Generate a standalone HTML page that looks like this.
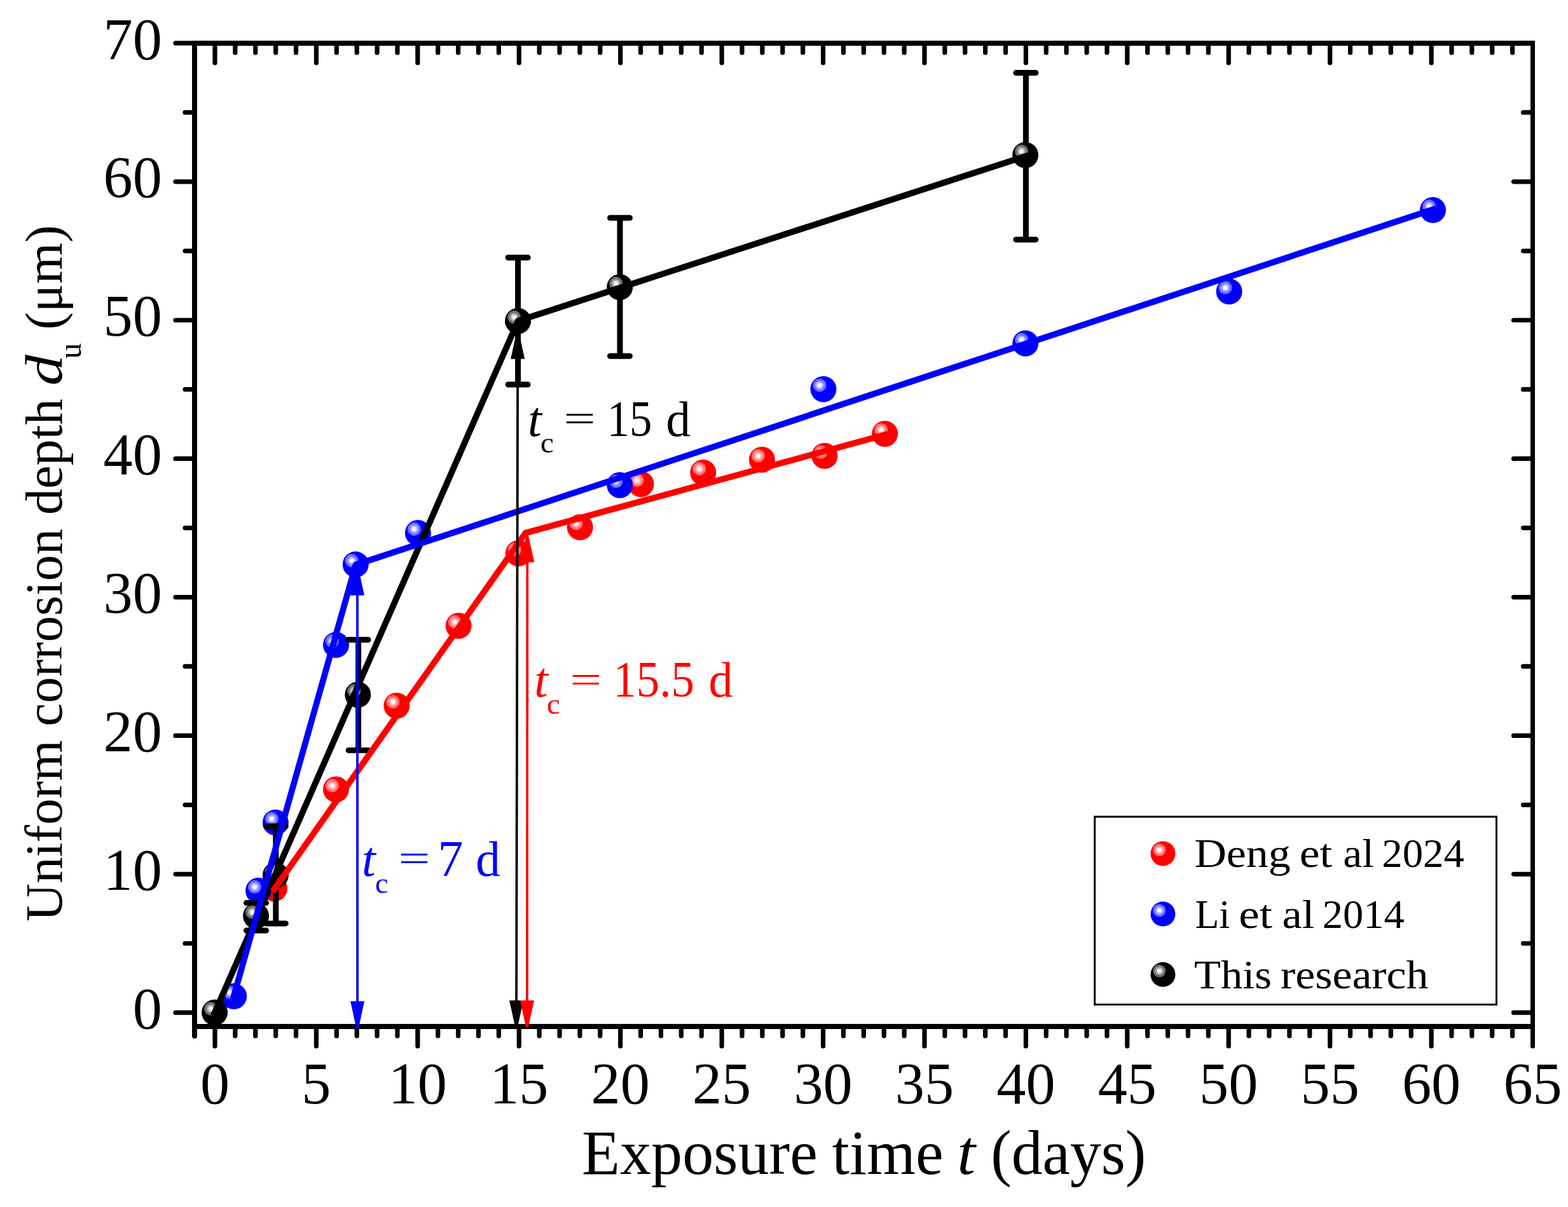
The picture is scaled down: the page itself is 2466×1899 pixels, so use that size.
<!DOCTYPE html>
<html lang="en"><head><meta charset="utf-8"><title>Uniform corrosion depth vs exposure time</title>
<style>
html,body{margin:0;padding:0;background:#fff;}
body{width:2466px;height:1899px;overflow:hidden;}
svg{display:block;}
text{font-family:"Liberation Serif","DejaVu Serif",serif;}
.tk{font-size:92.3px;fill:#000;}
.an{font-size:75.4px;}
.lg{font-size:62.5px;fill:#000;}
.yt{font-size:83px;fill:#000;}
</style></head><body>
<svg width="2466" height="1899" viewBox="0 0 2466 1899" role="img" aria-label="Uniform corrosion depth versus exposure time">
<rect width="2466" height="1899" fill="#fff"/>
<g id="scatter-red">
<g><circle cx="431.5" cy="1398" r="20.5" fill="#ff0000"/><circle cx="425.5" cy="1392" r="10.5" fill="#ff7070"/><circle cx="425.5" cy="1392" r="6.6" fill="#ffb0b0"/><circle cx="425.5" cy="1392" r="3.6" fill="#fff4f4"/></g>
<g><circle cx="528.4" cy="1242" r="20.5" fill="#ff0000"/><circle cx="522.4" cy="1236" r="10.5" fill="#ff7070"/><circle cx="522.4" cy="1236" r="6.6" fill="#ffb0b0"/><circle cx="522.4" cy="1236" r="3.6" fill="#fff4f4"/></g>
<g><circle cx="623.9" cy="1110.2" r="20.5" fill="#ff0000"/><circle cx="617.9" cy="1104.2" r="10.5" fill="#ff7070"/><circle cx="617.9" cy="1104.2" r="6.6" fill="#ffb0b0"/><circle cx="617.9" cy="1104.2" r="3.6" fill="#fff4f4"/></g>
<g><circle cx="721.2" cy="984.5" r="20.5" fill="#ff0000"/><circle cx="715.2" cy="978.5" r="10.5" fill="#ff7070"/><circle cx="715.2" cy="978.5" r="6.6" fill="#ffb0b0"/><circle cx="715.2" cy="978.5" r="3.6" fill="#fff4f4"/></g>
<g><circle cx="815.3" cy="870.5" r="20.5" fill="#ff0000"/><circle cx="809.3" cy="864.5" r="10.5" fill="#ff7070"/><circle cx="809.3" cy="864.5" r="6.6" fill="#ffb0b0"/><circle cx="809.3" cy="864.5" r="3.6" fill="#fff4f4"/></g>
<g><circle cx="912.2" cy="829.4" r="20.5" fill="#ff0000"/><circle cx="906.2" cy="823.4" r="10.5" fill="#ff7070"/><circle cx="906.2" cy="823.4" r="6.6" fill="#ffb0b0"/><circle cx="906.2" cy="823.4" r="3.6" fill="#fff4f4"/></g>
<g><circle cx="1008" cy="761.6" r="20.5" fill="#ff0000"/><circle cx="1002" cy="755.6" r="10.5" fill="#ff7070"/><circle cx="1002" cy="755.6" r="6.6" fill="#ffb0b0"/><circle cx="1002" cy="755.6" r="3.6" fill="#fff4f4"/></g>
<g><circle cx="1105.8" cy="743.4" r="20.5" fill="#ff0000"/><circle cx="1099.8" cy="737.4" r="10.5" fill="#ff7070"/><circle cx="1099.8" cy="737.4" r="6.6" fill="#ffb0b0"/><circle cx="1099.8" cy="737.4" r="3.6" fill="#fff4f4"/></g>
<g><circle cx="1198.4" cy="723.2" r="20.5" fill="#ff0000"/><circle cx="1192.4" cy="717.2" r="10.5" fill="#ff7070"/><circle cx="1192.4" cy="717.2" r="6.6" fill="#ffb0b0"/><circle cx="1192.4" cy="717.2" r="3.6" fill="#fff4f4"/></g>
<g><circle cx="1296.9" cy="717.3" r="20.5" fill="#ff0000"/><circle cx="1290.9" cy="711.3" r="10.5" fill="#ff7070"/><circle cx="1290.9" cy="711.3" r="6.6" fill="#ffb0b0"/><circle cx="1290.9" cy="711.3" r="3.6" fill="#fff4f4"/></g>
<g><circle cx="1391.7" cy="682.5" r="20.5" fill="#ff0000"/><circle cx="1385.7" cy="676.5" r="10.5" fill="#ff7070"/><circle cx="1385.7" cy="676.5" r="6.6" fill="#ffb0b0"/><circle cx="1385.7" cy="676.5" r="3.6" fill="#fff4f4"/></g>
</g>
<g id="scatter-blue">
<g><circle cx="367.7" cy="1567.4" r="20.5" fill="#0000ff"/><circle cx="361.7" cy="1561.4" r="10.5" fill="#7070ff"/><circle cx="361.7" cy="1561.4" r="6.6" fill="#b0b0ff"/><circle cx="361.7" cy="1561.4" r="3.6" fill="#f4f4ff"/></g>
<g><circle cx="406.5" cy="1401.3" r="20.5" fill="#0000ff"/><circle cx="400.5" cy="1395.3" r="10.5" fill="#7070ff"/><circle cx="400.5" cy="1395.3" r="6.6" fill="#b0b0ff"/><circle cx="400.5" cy="1395.3" r="3.6" fill="#f4f4ff"/></g>
<g><circle cx="433.4" cy="1294.1" r="20.5" fill="#0000ff"/><circle cx="427.4" cy="1288.1" r="10.5" fill="#7070ff"/><circle cx="427.4" cy="1288.1" r="6.6" fill="#b0b0ff"/><circle cx="427.4" cy="1288.1" r="3.6" fill="#f4f4ff"/></g>
<g><circle cx="528.5" cy="1014.6" r="20.5" fill="#0000ff"/><circle cx="522.5" cy="1008.6" r="10.5" fill="#7070ff"/><circle cx="522.5" cy="1008.6" r="6.6" fill="#b0b0ff"/><circle cx="522.5" cy="1008.6" r="3.6" fill="#f4f4ff"/></g>
<g><circle cx="559.3" cy="888.1" r="20.5" fill="#0000ff"/><circle cx="553.3" cy="882.1" r="10.5" fill="#7070ff"/><circle cx="553.3" cy="882.1" r="6.6" fill="#b0b0ff"/><circle cx="553.3" cy="882.1" r="3.6" fill="#f4f4ff"/></g>
<g><circle cx="657.4" cy="838.4" r="20.5" fill="#0000ff"/><circle cx="651.4" cy="832.4" r="10.5" fill="#7070ff"/><circle cx="651.4" cy="832.4" r="6.6" fill="#b0b0ff"/><circle cx="651.4" cy="832.4" r="3.6" fill="#f4f4ff"/></g>
<g><circle cx="974.8" cy="763.3" r="20.5" fill="#0000ff"/><circle cx="968.8" cy="757.3" r="10.5" fill="#7070ff"/><circle cx="968.8" cy="757.3" r="6.6" fill="#b0b0ff"/><circle cx="968.8" cy="757.3" r="3.6" fill="#f4f4ff"/></g>
<g><circle cx="1295" cy="612.2" r="20.5" fill="#0000ff"/><circle cx="1289" cy="606.2" r="10.5" fill="#7070ff"/><circle cx="1289" cy="606.2" r="6.6" fill="#b0b0ff"/><circle cx="1289" cy="606.2" r="3.6" fill="#f4f4ff"/></g>
<g><circle cx="1612.7" cy="540.3" r="20.5" fill="#0000ff"/><circle cx="1606.7" cy="534.3" r="10.5" fill="#7070ff"/><circle cx="1606.7" cy="534.3" r="6.6" fill="#b0b0ff"/><circle cx="1606.7" cy="534.3" r="3.6" fill="#f4f4ff"/></g>
<g><circle cx="1933.1" cy="458.6" r="20.5" fill="#0000ff"/><circle cx="1927.1" cy="452.6" r="10.5" fill="#7070ff"/><circle cx="1927.1" cy="452.6" r="6.6" fill="#b0b0ff"/><circle cx="1927.1" cy="452.6" r="3.6" fill="#f4f4ff"/></g>
<g><circle cx="2253.5" cy="330.4" r="20.5" fill="#0000ff"/><circle cx="2247.5" cy="324.4" r="10.5" fill="#7070ff"/><circle cx="2247.5" cy="324.4" r="6.6" fill="#b0b0ff"/><circle cx="2247.5" cy="324.4" r="3.6" fill="#f4f4ff"/></g>
</g>
<g id="errorbars" stroke="#000" stroke-width="9" stroke-linecap="round" fill="none">
<path d="M403 1420.6V1464 M387.5 1420.6H418.5 M387.5 1464H418.5"/>
<path d="M433.8 1300V1452.9 M418.3 1300H449.3 M418.3 1452.9H449.3"/>
<path d="M563.6 1006.6V1180.4 M548.1 1006.6H579.1 M548.1 1180.4H579.1"/>
<path d="M814.6 405.3V605 M799.1 405.3H830.1 M799.1 605H830.1"/>
<path d="M975 342.8V560.3 M959.5 342.8H990.5 M959.5 560.3H990.5"/>
<path d="M1613.4 114.6V376.9 M1597.9 114.6H1628.9 M1597.9 376.9H1628.9"/>
</g>
<g id="scatter-black">
<g><circle cx="337.6" cy="1593" r="20.5" fill="#000000"/><circle cx="331.6" cy="1587" r="10.5" fill="#707070"/><circle cx="331.6" cy="1587" r="6.6" fill="#b0b0b0"/><circle cx="331.6" cy="1587" r="3.6" fill="#f4f4f4"/></g>
<g><circle cx="402.6" cy="1441" r="20.5" fill="#000000"/><circle cx="396.6" cy="1435" r="10.5" fill="#707070"/><circle cx="396.6" cy="1435" r="6.6" fill="#b0b0b0"/><circle cx="396.6" cy="1435" r="3.6" fill="#f4f4f4"/></g>
<g><circle cx="433.4" cy="1377" r="20.5" fill="#000000"/><circle cx="427.4" cy="1371" r="10.5" fill="#707070"/><circle cx="427.4" cy="1371" r="6.6" fill="#b0b0b0"/><circle cx="427.4" cy="1371" r="3.6" fill="#f4f4f4"/></g>
<g><circle cx="562.8" cy="1093" r="20.5" fill="#000000"/><circle cx="556.8" cy="1087" r="10.5" fill="#707070"/><circle cx="556.8" cy="1087" r="6.6" fill="#b0b0b0"/><circle cx="556.8" cy="1087" r="3.6" fill="#f4f4f4"/></g>
<g><circle cx="814.6" cy="505" r="20.5" fill="#000000"/><circle cx="808.6" cy="499" r="10.5" fill="#707070"/><circle cx="808.6" cy="499" r="6.6" fill="#b0b0b0"/><circle cx="808.6" cy="499" r="3.6" fill="#f4f4f4"/></g>
<g><circle cx="974.7" cy="451.8" r="20.5" fill="#000000"/><circle cx="968.7" cy="445.8" r="10.5" fill="#707070"/><circle cx="968.7" cy="445.8" r="6.6" fill="#b0b0b0"/><circle cx="968.7" cy="445.8" r="3.6" fill="#f4f4f4"/></g>
<g><circle cx="1612.6" cy="244" r="20.5" fill="#000000"/><circle cx="1606.6" cy="238" r="10.5" fill="#707070"/><circle cx="1606.6" cy="238" r="6.6" fill="#b0b0b0"/><circle cx="1606.6" cy="238" r="3.6" fill="#f4f4f4"/></g>
</g>
<g id="fits" fill="none" stroke-width="9.7" stroke-linejoin="round" stroke-linecap="square">
<path stroke="#000" d="M337.5 1593.6L814.8 504.8L1612.8 245.8"/>
<path stroke="#00f" d="M367.6 1567.4L559.4 888.7L2253.5 329.6"/>
<path stroke="#f00" d="M431.7 1398.4L826.5 838.5L1391.7 684"/>
</g>
<g id="axes" stroke="#000" stroke-width="8" fill="none" stroke-linecap="round">
<path stroke-linecap="butt" d="M302 68H2414 M302 1615H2414 M306 68V1615"/>
<path stroke-linecap="butt" stroke-width="7" d="M2410.5 68V1615"/>
<path stroke-width="7.2" d="M338 68v31 M338 1615v31 M369.88 68v15 M369.88 1615v15 M401.77 68v15 M401.77 1615v15 M433.65 68v15 M433.65 1615v15 M465.54 68v15 M465.54 1615v15 M497.43 68v31 M497.43 1615v31 M529.31 68v15 M529.31 1615v15 M561.2 68v15 M561.2 1615v15 M593.08 68v15 M593.08 1615v15 M624.97 68v15 M624.97 1615v15 M656.85 68v31 M656.85 1615v31 M688.74 68v15 M688.74 1615v15 M720.62 68v15 M720.62 1615v15 M752.5 68v15 M752.5 1615v15 M784.39 68v15 M784.39 1615v15 M816.28 68v31 M816.28 1615v31 M848.16 68v15 M848.16 1615v15 M880.05 68v15 M880.05 1615v15 M911.93 68v15 M911.93 1615v15 M943.82 68v15 M943.82 1615v15 M975.7 68v31 M975.7 1615v31 M1007.59 68v15 M1007.59 1615v15 M1039.47 68v15 M1039.47 1615v15 M1071.36 68v15 M1071.36 1615v15 M1103.24 68v15 M1103.24 1615v15 M1135.12 68v31 M1135.12 1615v31 M1167.01 68v15 M1167.01 1615v15 M1198.89 68v15 M1198.89 1615v15 M1230.78 68v15 M1230.78 1615v15 M1262.66 68v15 M1262.66 1615v15 M1294.55 68v31 M1294.55 1615v31 M1326.43 68v15 M1326.43 1615v15 M1358.32 68v15 M1358.32 1615v15 M1390.21 68v15 M1390.21 1615v15 M1422.09 68v15 M1422.09 1615v15 M1453.98 68v31 M1453.98 1615v31 M1485.86 68v15 M1485.86 1615v15 M1517.75 68v15 M1517.75 1615v15 M1549.63 68v15 M1549.63 1615v15 M1581.52 68v15 M1581.52 1615v15 M1613.4 68v31 M1613.4 1615v31 M1645.29 68v15 M1645.29 1615v15 M1677.17 68v15 M1677.17 1615v15 M1709.06 68v15 M1709.06 1615v15 M1740.94 68v15 M1740.94 1615v15 M1772.83 68v31 M1772.83 1615v31 M1804.71 68v15 M1804.71 1615v15 M1836.6 68v15 M1836.6 1615v15 M1868.48 68v15 M1868.48 1615v15 M1900.37 68v15 M1900.37 1615v15 M1932.25 68v31 M1932.25 1615v31 M1964.13 68v15 M1964.13 1615v15 M1996.02 68v15 M1996.02 1615v15 M2027.9 68v15 M2027.9 1615v15 M2059.79 68v15 M2059.79 1615v15 M2091.68 68v31 M2091.68 1615v31 M2123.56 68v15 M2123.56 1615v15 M2155.45 68v15 M2155.45 1615v15 M2187.33 68v15 M2187.33 1615v15 M2219.22 68v15 M2219.22 1615v15 M2251.1 68v31 M2251.1 1615v31 M2282.99 68v15 M2282.99 1615v15 M2314.87 68v15 M2314.87 1615v15 M2346.76 68v15 M2346.76 1615v15 M2378.64 68v15 M2378.64 1615v15"/>
<path stroke-width="7" d="M2410.5 1615v31"/>
<path stroke-width="8" d="M306 1615v15"/>
<path stroke-width="7.2" d="M306 1593.2h-30 M2409.5 1593.2h-29 M306 1484.26h-15 M2409.5 1484.26h-14 M306 1375.31h-30 M2409.5 1375.31h-29 M306 1266.37h-15 M2409.5 1266.37h-14 M306 1157.42h-30 M2409.5 1157.42h-29 M306 1048.47h-15 M2409.5 1048.47h-14 M306 939.53h-30 M2409.5 939.53h-29 M306 830.59h-15 M2409.5 830.59h-14 M306 721.64h-30 M2409.5 721.64h-29 M306 612.69h-15 M2409.5 612.69h-14 M306 503.75h-30 M2409.5 503.75h-29 M306 394.81h-15 M2409.5 394.81h-14 M306 285.86h-30 M2409.5 285.86h-29 M306 176.91h-15 M2409.5 176.91h-14 M306 67.97h-30"/>
</g>
<g id="arrows">
<g fill="#000" stroke="none"><path d="M812.3 563.8L816.1 563.8L814 1575L810.2 1575Z"/><path d="M812.35 522.6L816.05 522.6L825.2 564.8L803.2 564.8Z"/><path d="M810.25 1616.2L813.95 1616.2L823.1 1574L801.1 1574Z"/></g>
<g fill="#f00" stroke="none"><path d="M827.4 883.8L831.2 883.8L830.9 1575L827.1 1575Z"/><path d="M827.45 842.6L831.15 842.6L840.3 884.8L818.3 884.8Z"/><path d="M827.15 1616.2L830.85 1616.2L840 1574L818 1574Z"/></g>
<g fill="#00f" stroke="none"><path d="M560.1 935.7L563.9 935.7L564 1576.2L560.2 1576.2Z"/><path d="M560.15 894.5L563.85 894.5L573 936.7L551 936.7Z"/><path d="M560.25 1617.4L563.95 1617.4L573.1 1575.2L551.1 1575.2Z"/></g>
</g>
<g id="xticklabels" class="tk" text-anchor="middle">
<text transform="translate(338 1736.1) scale(1 1.012)">0</text>
<text transform="translate(497.43 1736.1) scale(1 1.012)">5</text>
<text transform="translate(656.85 1736.1) scale(1 1.012)">10</text>
<text transform="translate(816.28 1736.1) scale(1 1.012)">15</text>
<text transform="translate(975.7 1736.1) scale(1 1.012)">20</text>
<text transform="translate(1135.12 1736.1) scale(1 1.012)">25</text>
<text transform="translate(1294.55 1736.1) scale(1 1.012)">30</text>
<text transform="translate(1453.98 1736.1) scale(1 1.012)">35</text>
<text transform="translate(1613.4 1736.1) scale(1 1.012)">40</text>
<text transform="translate(1772.83 1736.1) scale(1 1.012)">45</text>
<text transform="translate(1932.25 1736.1) scale(1 1.012)">50</text>
<text transform="translate(2091.68 1736.1) scale(1 1.012)">55</text>
<text transform="translate(2251.1 1736.1) scale(1 1.012)">60</text>
<text transform="translate(2410.53 1736.1) scale(1 1.012)">65</text>
</g>
<g id="yticklabels" class="tk" text-anchor="end">
<text transform="translate(254.8 1617.8) scale(1 1.012)">0</text>
<text transform="translate(254.8 1399.91) scale(1 1.012)">10</text>
<text transform="translate(254.8 1182.02) scale(1 1.012)">20</text>
<text transform="translate(254.8 964.13) scale(1 1.012)">30</text>
<text transform="translate(254.8 746.24) scale(1 1.012)">40</text>
<text transform="translate(254.8 528.35) scale(1 1.012)">50</text>
<text transform="translate(254.8 310.46) scale(1 1.012)">60</text>
<text transform="translate(254.8 92.57) scale(1 1.012)">70</text>
</g>
<g id="xtitle">
<text y="1846.8" font-size="99.2" fill="#000"><tspan x="914.95" textLength="370.97" lengthAdjust="spacingAndGlyphs">Exposure</tspan> <tspan x="1308.61" textLength="175.07" lengthAdjust="spacingAndGlyphs">time</tspan> <tspan x="1505.34" textLength="28.79" lengthAdjust="spacingAndGlyphs" font-style="italic">t</tspan> <tspan x="1558.2" textLength="244.2" lengthAdjust="spacingAndGlyphs">(days)</tspan></text>
</g>
<g id="ytitle" transform="translate(97.3 0) rotate(-90)">
<text y="0" font-size="83" fill="#000"><tspan x="-1449.66" textLength="285.31" lengthAdjust="spacingAndGlyphs">Uniform</tspan> <tspan x="-1142.79" textLength="310.98" lengthAdjust="spacingAndGlyphs">corrosion</tspan> <tspan x="-810.08" textLength="182.84" lengthAdjust="spacingAndGlyphs">depth</tspan> <tspan x="-606.8" textLength="48.4" lengthAdjust="spacingAndGlyphs" font-style="italic">d</tspan><tspan x="-564.54" textLength="24.68" lengthAdjust="spacingAndGlyphs" font-size="50" dy="29.2">u</tspan> <tspan x="-518.85" textLength="164.79" lengthAdjust="spacingAndGlyphs" dy="-29.2">(μm)</tspan></text>
</g>
<g id="annotations">
<text y="685.5" font-size="77.6" fill="#000"><tspan x="829.97" textLength="21.79" lengthAdjust="spacingAndGlyphs" font-style="italic">t</tspan><tspan x="849.92" textLength="20.83" lengthAdjust="spacingAndGlyphs" font-size="46" dy="26.1">c</tspan> <tspan x="886.46" textLength="50.09" lengthAdjust="spacingAndGlyphs" font-size="62" dy="-32.7">=</tspan> <tspan x="954.63" textLength="70.8" lengthAdjust="spacingAndGlyphs" font-size="80.3" dy="6.6">15</tspan> <tspan x="1047.41" textLength="38.46" lengthAdjust="spacingAndGlyphs">d</tspan></text>
<text y="1096.2" font-size="77.6" fill="#f00"><tspan x="840.23" textLength="21.45" lengthAdjust="spacingAndGlyphs" font-style="italic">t</tspan><tspan x="860.02" textLength="20.83" lengthAdjust="spacingAndGlyphs" font-size="46" dy="26.4">c</tspan> <tspan x="896.36" textLength="50.09" lengthAdjust="spacingAndGlyphs" font-size="62" dy="-33">=</tspan> <tspan x="964.33" textLength="127.79" lengthAdjust="spacingAndGlyphs" font-size="80.3" dy="6.6">15.5</tspan> <tspan x="1114.53" textLength="38.13" lengthAdjust="spacingAndGlyphs">d</tspan></text>
<text y="1377.9" font-size="77.6" fill="#00f"><tspan x="569.09" textLength="21.68" lengthAdjust="spacingAndGlyphs" font-style="italic">t</tspan><tspan x="590.05" textLength="20.48" lengthAdjust="spacingAndGlyphs" font-size="46" dy="26.7">c</tspan> <tspan x="626.47" textLength="49.97" lengthAdjust="spacingAndGlyphs" font-size="62" dy="-33.3">=</tspan> <tspan x="688.6" textLength="40" lengthAdjust="spacingAndGlyphs" font-size="80.3" dy="6.6">7</tspan> <tspan x="748.29" textLength="38.68" lengthAdjust="spacingAndGlyphs">d</tspan></text>
</g>
<g id="legend">
<rect x="1721.7" y="1285" width="631.8" height="295.5" fill="#fff" stroke="#000" stroke-width="3"/>
<g><circle cx="1829" cy="1342.9" r="19.5" fill="#ff0000"/><circle cx="1823.29" cy="1337.19" r="9.99" fill="#ff7070"/><circle cx="1823.29" cy="1337.19" r="6.28" fill="#ffb0b0"/><circle cx="1823.29" cy="1337.19" r="3.42" fill="#fff4f4"/></g>
<g><circle cx="1829" cy="1438.1" r="19.5" fill="#0000ff"/><circle cx="1823.29" cy="1432.39" r="9.99" fill="#7070ff"/><circle cx="1823.29" cy="1432.39" r="6.28" fill="#b0b0ff"/><circle cx="1823.29" cy="1432.39" r="3.42" fill="#f4f4ff"/></g>
<g><circle cx="1829" cy="1533.3" r="19.5" fill="#000000"/><circle cx="1823.29" cy="1527.59" r="9.99" fill="#707070"/><circle cx="1823.29" cy="1527.59" r="6.28" fill="#b0b0b0"/><circle cx="1823.29" cy="1527.59" r="3.42" fill="#f4f4f4"/></g>
<text y="1364.3" font-size="64" fill="#000"><tspan x="1878.4" textLength="151.26" lengthAdjust="spacingAndGlyphs">Deng</tspan> <tspan x="2043.84" textLength="51.54" lengthAdjust="spacingAndGlyphs">et</tspan> <tspan x="2112.24" textLength="48.73" lengthAdjust="spacingAndGlyphs">al</tspan> <tspan x="2173.29" textLength="129.48" lengthAdjust="spacingAndGlyphs">2024</tspan></text>
<text y="1459.8" font-size="64" fill="#000"><tspan x="1879.44" textLength="55.01" lengthAdjust="spacingAndGlyphs">Li</tspan> <tspan x="1948.38" textLength="52.61" lengthAdjust="spacingAndGlyphs">et</tspan> <tspan x="2016.53" textLength="50.9" lengthAdjust="spacingAndGlyphs">al</tspan> <tspan x="2079.7" textLength="128.97" lengthAdjust="spacingAndGlyphs">2014</tspan></text>
<text y="1554.8" font-size="64" fill="#000"><tspan x="1878.13" textLength="121.87" lengthAdjust="spacingAndGlyphs">This</tspan> <tspan x="2014" textLength="232.49" lengthAdjust="spacingAndGlyphs">research</tspan></text>
</g>
</svg>
</body></html>
